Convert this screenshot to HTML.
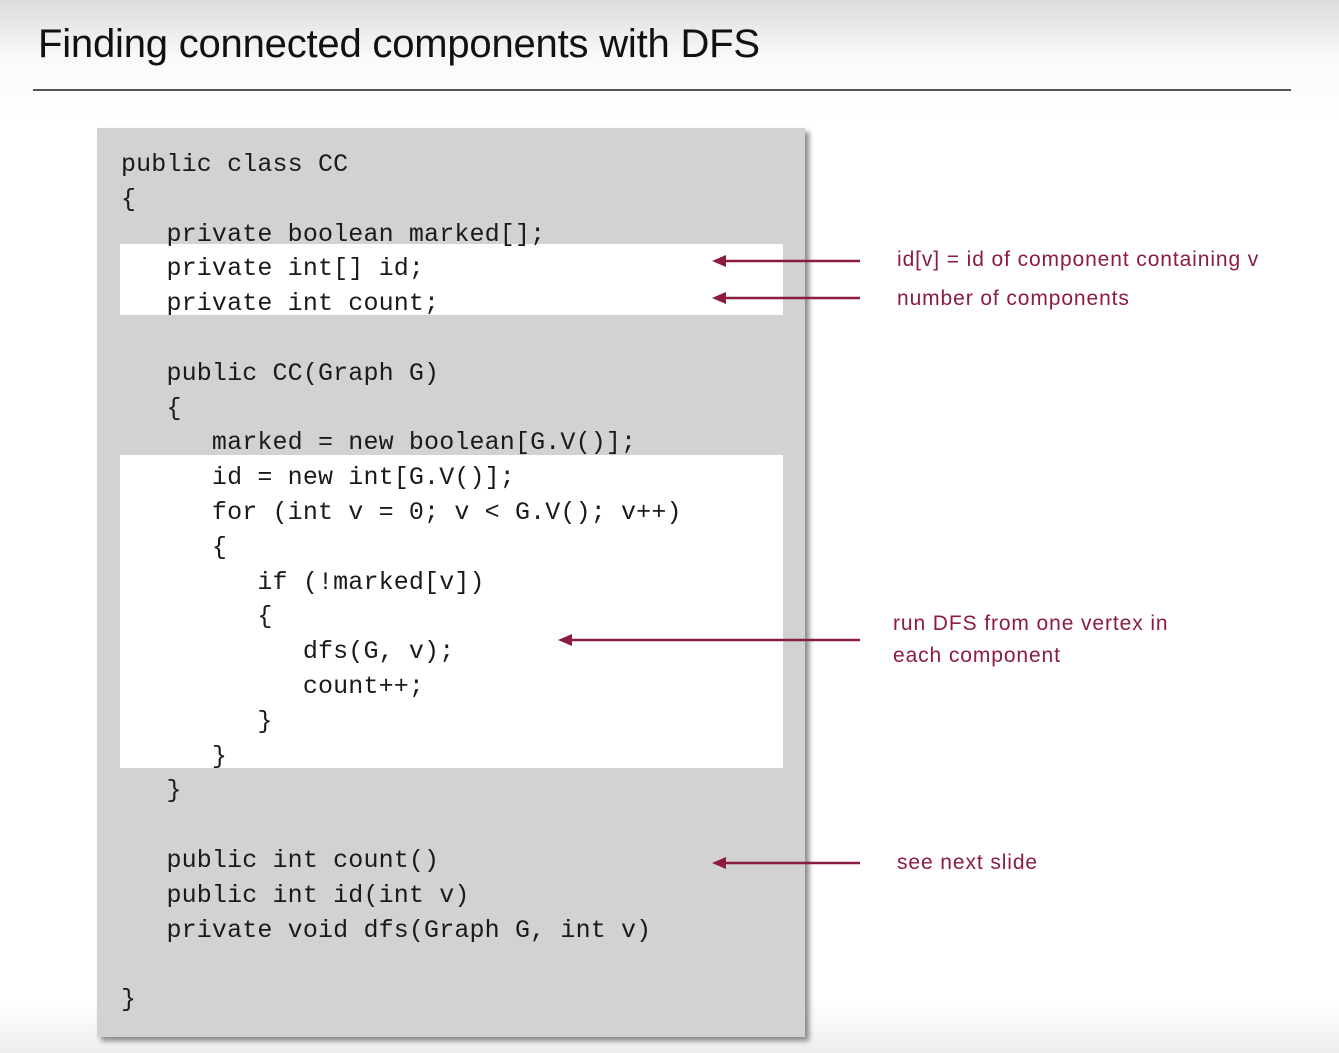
<!DOCTYPE html>
<html><head><style>
body{margin:0;width:1339px;height:1053px;overflow:hidden;background:linear-gradient(#dcdcdc 0px,#fafafa 60px,#fff 120px,#fff 1000px,#eee 1053px);position:relative;font-family:"Liberation Sans",sans-serif}
.t{position:absolute;left:38px;top:22px;font-size:40px;color:#111;white-space:nowrap;letter-spacing:-0.2px}
.hr{position:absolute;left:33px;top:89px;width:1258px;height:2px;background:#555}
.box{position:absolute;left:97px;top:128px;width:708px;height:909px;background:#d2d2d2;box-shadow:4px 4px 5px #888}
.hl{position:absolute;background:#fff}
.code{position:absolute;left:121px;top:148px;font-family:"Liberation Mono",monospace;font-size:25px;letter-spacing:0.15px;line-height:34.8px;color:#1a1a1a;white-space:pre;margin:0}
.a{position:absolute;color:#8c1c3c;font-size:21px;letter-spacing:0.9px;white-space:nowrap}
</style></head><body>
<div class="t">Finding connected components with DFS</div>
<div class="hr"></div>
<div class="box"></div>
<div class="hl" style="left:120px;top:244px;width:663px;height:71px"></div>
<div class="hl" style="left:120px;top:455px;width:663px;height:313px"></div>
<pre class="code">public class CC
{
   private boolean marked[];
   private int[] id;
   private int count;

   public CC(Graph G)
   {
      marked = new boolean[G.V()];
      id = new int[G.V()];
      for (int v = 0; v &lt; G.V(); v++)
      {
         if (!marked[v])
         {
            dfs(G, v);
            count++;
         }
      }
   }

   public int count()
   public int id(int v)
   private void dfs(Graph G, int v)

}</pre>
<svg style="position:absolute;left:0;top:0" width="1339" height="1053">
<g stroke="#8c1c3c" stroke-width="2.5" fill="#8c1c3c">
<line x1="720" y1="261" x2="860" y2="261"/><polygon points="712,261 726,255 726,267" stroke="none"/>
<line x1="720" y1="298" x2="860" y2="298"/><polygon points="712,298 726,292 726,304" stroke="none"/>
<line x1="566" y1="640" x2="860" y2="640"/><polygon points="558,640 572,634 572,646" stroke="none"/>
<line x1="720" y1="863" x2="860" y2="863"/><polygon points="712,863 726,857 726,869" stroke="none"/>
</g></svg>
<div class="a" style="left:897px;top:248px">id[v] = id of component containing v</div>
<div class="a" style="left:897px;top:287px">number of components</div>
<div class="a" style="left:893px;top:612px">run DFS from one vertex in</div>
<div class="a" style="left:893px;top:644px">each component</div>
<div class="a" style="left:897px;top:851px">see next slide</div>
</body></html>
